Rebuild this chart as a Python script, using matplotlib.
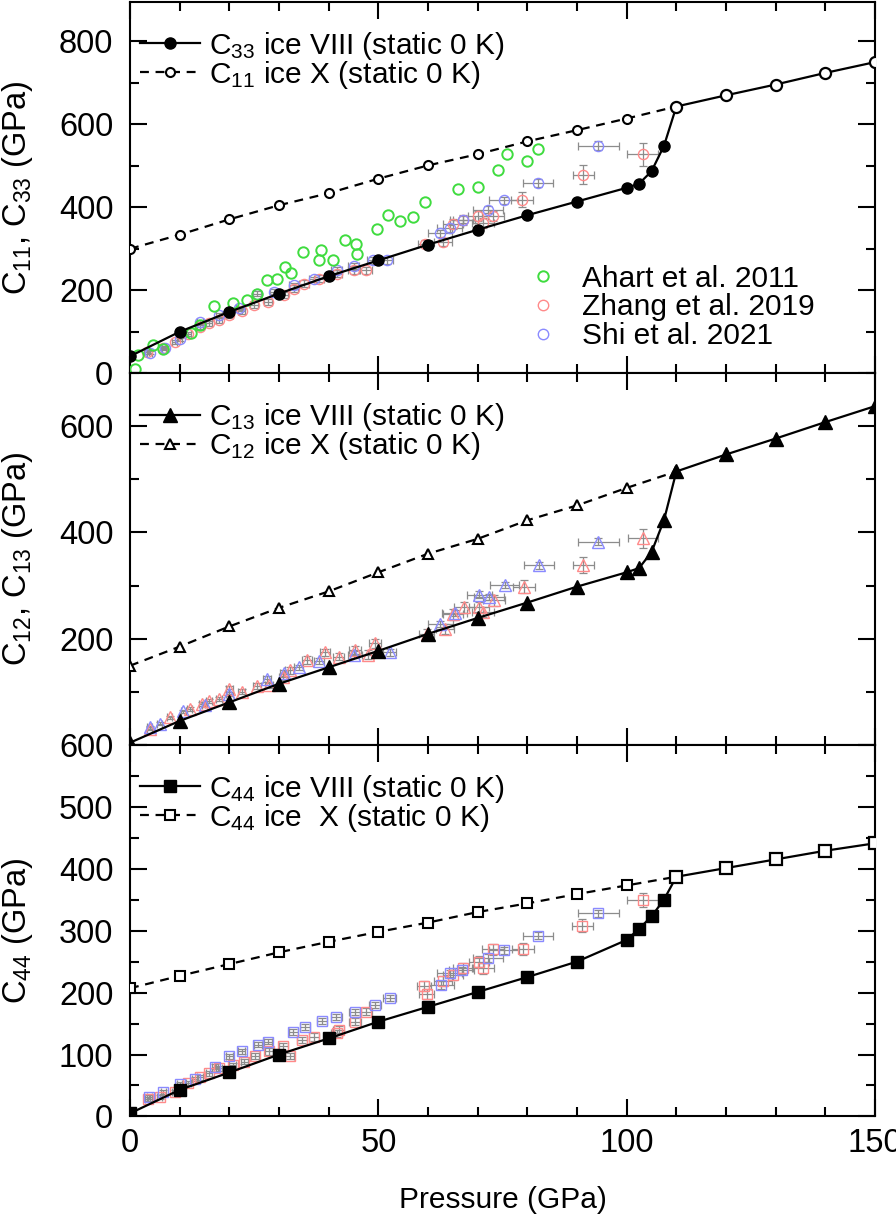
import matplotlib
matplotlib.use("Agg")
import matplotlib.pyplot as plt
from matplotlib.ticker import MultipleLocator, NullFormatter, FuncFormatter
from matplotlib.lines import Line2D

plt.rcParams['font.family'] = ['Liberation Sans', 'DejaVu Sans']
plt.rcParams['mathtext.fontset'] = 'custom'
plt.rcParams['mathtext.rm'] = 'Liberation Sans'
plt.rcParams['mathtext.it'] = 'Liberation Sans'
plt.rcParams['mathtext.default'] = 'regular'

# ---------------- theory (static 0 K) ----------------
P_viii = [0, 10, 20, 30, 40, 50, 60, 70, 80, 90, 100, 102.5, 105, 107.5, 110, 120, 130, 140, 150]
P_x = [0, 10, 20, 30, 40, 50, 60, 70, 80, 90, 100, 110]

C33_viii = [41, 100, 148, 192, 234, 272, 310, 346, 381, 414, 447, 457, 487, 548, 643, 670, 696, 724, 750]
C11_x = [300, 334, 371, 405, 434, 469, 501, 528, 559, 586, 614, 643]

C13_viii = [4, 45, 80, 115, 146, 177, 209, 239, 268, 298, 325, 333, 363, 423, 515, 547, 577, 608, 638]
C12_x = [149, 185, 223, 258, 289, 325, 360, 388, 423, 451, 484, 515]

C44_viii = [5, 43, 71, 100, 126, 153, 177, 201, 225, 250, 285, 303, 323, 350, 387, 401, 415, 429, 441]
C44_x = [207, 227, 246, 265, 282, 298, 313, 330, 344, 359, 373, 387]

# ---------------- experiments ----------------
# Ahart et al. 2011 (C11, no error bars)
ahart_P = [1, 1.7, 4.7, 6.7, 12.3, 14, 17, 20.8, 23.5, 25.5, 27.5, 29.5, 31.3, 32.5, 34.8, 38,
           38.4, 40.9, 43.3, 45.6, 45.8, 49.7, 52, 54.4, 57, 59.4, 66.1, 70.1, 74, 76, 80, 82.2]
ahart_C11 = [11, 43, 67, 59, 96, 116, 161, 169, 176, 192, 225, 228, 256, 242, 292, 272,
             296, 272, 322, 312, 288, 348, 381, 366, 377, 413, 443, 449, 491, 528, 512, 540]

# Zhang et al. 2019
zh1_P = [3.4, 6.7, 9, 11.7, 14, 16, 18, 20, 22.5, 25, 27.8, 31, 33, 35, 38, 41.6, 45, 47.6,
         59.4, 63, 65, 67, 70, 71, 73, 79, 91.3, 103.2]
zh1_C = [51, 60, 75, 95, 111, 120, 128, 140, 150, 164, 172, 188, 204, 216, 228, 240, 248, 248,
         311, 316, 360, 369, 378, 362, 378, 418, 478, 528]
zh1_xe = [0.5, 0.5, 0.5, 0.5, 0.6, 0.6, 0.6, 0.7, 0.7, 0.8, 0.8, 0.9, 0.9, 1, 1, 1.1, 1.2, 1.2,
          1.5, 1.8, 2, 2, 2, 2.2, 2.2, 2.2, 2.2, 3.1]
zh1_ye = [4, 4, 5, 5, 5, 6, 6, 6, 6, 7, 7, 7, 8, 8, 8, 9, 9, 9, 10, 10, 12, 12, 12, 12, 12, 18, 23, 28]

zh2_P = [4, 8, 12, 14.4, 16, 18, 20, 22.5, 25.5, 28, 30.9, 32.2, 35.6, 39.3, 42, 45.3, 48, 49.3,
         59.7, 63.4, 65, 67.3, 70.3, 71, 73.3, 79.3, 91.3, 103.3]
zh2_C = [30, 52, 67, 77, 82, 86, 105, 100, 111, 112, 128, 140, 160, 174, 166, 179, 170, 191,
         209, 218, 246, 259, 259, 250, 272, 298, 338, 389]
zh2_xe = [0.5, 0.5, 0.5, 0.6, 0.6, 0.6, 0.7, 0.7, 0.8, 0.8, 0.9, 0.9, 1, 1, 1.1, 1.2, 1.2, 1.2,
          1.5, 1.8, 2, 2, 2, 2.2, 2.2, 2.2, 2.2, 3.1]
zh2_ye = [3, 3, 4, 4, 4, 4, 5, 5, 5, 5, 6, 6, 7, 7, 7, 8, 8, 8, 9, 9, 10, 10, 10, 10, 10, 12, 15, 18]

zh4_P = [3.6, 6, 9, 11.7, 14, 16, 18, 20.7, 23, 25.2, 28, 30.9, 32.2, 34.6, 37, 41.6, 42,
         45.3, 47.6, 59.2, 59.7, 63, 65, 67, 70.3, 71, 73.1, 79.2, 91.1, 103.2]
zh4_C = [28, 32, 40, 54, 63, 70, 78, 83, 88, 97, 105, 113, 97, 124, 128, 134, 140,
         153, 169, 210, 198, 219, 229, 239, 250, 239, 270, 270, 308, 349]
zh4_xe = [0.5, 0.5, 0.5, 0.5, 0.6, 0.6, 0.6, 0.7, 0.7, 0.8, 0.8, 0.9, 0.9, 1, 1, 1.1, 1.1,
          1.2, 1.2, 1.5, 1.5, 1.8, 2, 2, 2, 2.2, 2.2, 2.2, 2.2, 3.1]
zh4_ye = [3, 3, 3, 3, 4, 4, 4, 4, 4, 5, 5, 5, 5, 5, 6, 6, 6, 6, 6, 8, 8, 8, 8, 8, 9, 9, 9, 10, 10, 11]

# Shi et al. 2021
sh1_P = [4, 7, 10, 14, 18, 22, 25.5, 29, 33, 37, 41.6, 45, 49, 51.7,
         62.4, 64.4, 67, 72.1, 75.2, 82.2, 94.3]
sh1_C = [50, 62, 82, 124, 140, 158, 192, 196, 212, 226, 248, 258, 272, 272,
         337, 349, 370, 394, 417, 459, 549]
sh1_xe = [0.5, 0.5, 0.5, 0.6, 0.6, 0.7, 0.8, 0.8, 0.9, 1, 1.1, 1.2, 1.2, 1.3,
          2.5, 2.5, 2.5, 3, 3, 3, 4.1]
sh1_ye = [4, 4, 4, 5, 5, 5, 6, 6, 6, 7, 7, 7, 8, 8, 8, 8, 8, 8, 9, 9, 10]

sh2_P = [4, 6, 10.7, 15, 20, 27.5, 31, 34, 38, 45, 52.3, 62.5, 65.4, 70.3, 72.3, 75.4, 82.4, 94.3]
sh2_C = [33, 40, 63, 75, 95, 124, 135, 146, 158, 170, 174, 228, 248, 283, 278, 301, 338, 383]
sh2_xe = [0.5, 0.5, 0.5, 0.6, 0.7, 0.8, 0.9, 0.9, 1, 1.2, 1.3, 2.5, 2.5, 2.5, 3, 3, 3, 4.1]
sh2_ye = [3, 3, 3, 4, 4, 5, 5, 5, 6, 6, 6, 6, 6, 6, 6, 6, 6, 6]

sh4_P = [3.9, 6.7, 10, 13, 17.1, 20, 22.5, 25.8, 27.8, 32.9, 35.2, 38.6, 41.5, 45.3, 49.3, 52.3,
         62.7, 64.4, 66.8, 72.1, 75.3, 82.2, 94.3]
sh4_C = [31, 40, 52, 60, 80, 97, 105, 116, 121, 137, 145, 154, 160, 169, 180, 191,
         212, 231, 236, 256, 268, 292, 328]
sh4_xe = [0.5, 0.5, 0.5, 0.6, 0.6, 0.7, 0.7, 0.8, 0.8, 0.9, 1, 1, 1.1, 1.2, 1.2, 1.3,
          2.5, 2.5, 2.5, 3, 3, 3, 4.1]
sh4_ye = [3, 3, 3, 3, 4, 4, 4, 4, 4, 5, 5, 5, 5, 5, 5, 5, 6, 6, 6, 6, 6, 6, 6]

labels_viii = [r'C$_{33}$ ice VIII (static 0 K)', r'C$_{13}$ ice VIII (static 0 K)', r'C$_{44}$ ice VIII (static 0 K)']
labels_x = [r'C$_{11}$ ice X (static 0 K)', r'C$_{12}$ ice X (static 0 K)', r'C$_{44}$ ice  X (static 0 K)']
exp_labels = ['Ahart et al. 2011', 'Zhang et al. 2019', 'Shi et al. 2021']
ylabels = [r'C$_{11}$, C$_{33}$ (GPa)', r'C$_{12}$, C$_{13}$ (GPa)', r'C$_{44}$ (GPa)']

GREEN = '#3fdc3f'
PINK = '#ff8a8a'
BLUE = '#8a8aff'
GRAY = '#8c8c8c'

FS = 21.5      # legend / xlabel
TFS = 23.5     # tick labels
LFS = 23.5     # y labels
fig = plt.figure(figsize=(8.96, 12.25), dpi=100)
L, W = 0.1451, 0.8315
axes = [fig.add_axes([L, 0.6953, W, 0.3031]),
        fig.add_axes([L, 0.3920, W, 0.3033]),
        fig.add_axes([L, 0.0886, W, 0.3034])]

viii = [C33_viii, C13_viii, C44_viii]
xph = [C11_x, C12_x, C44_x]
mk = ['o', '^', 's']
ms_big = [8, 9.5, 8]
ms_small = [6.5, 7.5, 6.5]
ylims = [(0, 895), (0, 700), (0, 600)]
ymaj = [200, 200, 100]
ymin = [100, 100, 50]
exp_sets = [
    [(zh1_P, zh1_C, zh1_xe, zh1_ye, PINK), (sh1_P, sh1_C, sh1_xe, sh1_ye, BLUE)],
    [(zh2_P, zh2_C, zh2_xe, zh2_ye, PINK), (sh2_P, sh2_C, sh2_xe, sh2_ye, BLUE)],
    [(zh4_P, zh4_C, zh4_xe, zh4_ye, PINK), (sh4_P, sh4_C, sh4_xe, sh4_ye, BLUE)],
]

n_low = sum(1 for p in P_viii if p < 110)

for i, ax in enumerate(axes):
    m = mk[i]
    # experiments
    for (pp, cc, xe, ye, col) in exp_sets[i]:
        ax.errorbar(pp, cc, xerr=xe, yerr=ye, fmt='none', ecolor=GRAY, elinewidth=0.9,
                    capsize=3, capthick=0.9, zorder=2)
        ax.plot(pp, cc, linestyle='none', marker=m, ms=ms_small[i] + 0.8, mfc='none',
                mec=col, mew=1.0, zorder=3)
    if i == 0:
        ax.plot(ahart_P, ahart_C11, linestyle='none', marker='o', ms=7.5, mfc='none',
                mec=GREEN, mew=1.4, zorder=3)

    # theory
    ax.plot(P_viii, viii[i], color='black', lw=1.6, zorder=5)
    ax.plot(P_viii[:n_low], viii[i][:n_low], linestyle='none', marker=m, ms=ms_big[i],
            mfc='black', mec='black', zorder=6)
    ax.plot(P_x, xph[i], color='black', lw=1.6, dashes=(4, 3), marker=m, ms=ms_small[i],
            mfc='white', mec='black', mew=1.5, zorder=6)
    if i == 1:
        ax.plot(P_viii[n_low:], viii[i][n_low:], linestyle='none', marker=m, ms=ms_big[i],
                mfc='black', mec='black', zorder=7)
    else:
        ax.plot(P_viii[n_low:], viii[i][n_low:], linestyle='none', marker=m, ms=ms_big[i],
                mfc='white', mec='black', mew=1.6, zorder=7)

    # legend (theory)
    h1 = Line2D([], [], color='black', lw=1.6, marker=m, ms=ms_big[i], mfc='black', mec='black')
    h2 = Line2D([], [], color='black', lw=1.6, dashes=(4, 3), marker=m, ms=ms_small[i],
                mfc='white', mec='black', mew=1.5)
    leg = ax.legend([h1, h2], [labels_viii[i], labels_x[i]], loc='upper left',
                    bbox_to_anchor=(0.014, 0.925), frameon=False, fontsize=FS,
                    handlelength=2.0, handletextpad=0.3, labelspacing=-0.1,
                    borderpad=0, borderaxespad=0, numpoints=1)
    if i == 0:
        ax.add_artist(leg)
        eh = [Line2D([], [], linestyle='none', marker='o', ms=7.5, mfc='none', mec=GREEN, mew=1.4),
              Line2D([], [], linestyle='none', marker='o', ms=7.5, mfc='none', mec=PINK, mew=1.0),
              Line2D([], [], linestyle='none', marker='o', ms=7.5, mfc='none', mec=BLUE, mew=1.0)]
        ax.legend(eh, exp_labels, loc='upper left', bbox_to_anchor=(0.514, 0.292),
                  frameon=False, fontsize=FS, handlelength=2.0, handletextpad=0.3,
                  labelspacing=0.02, borderpad=0, borderaxespad=0, numpoints=1)

    # axes styling
    ax.set_xlim(0, 150)
    ax.set_ylim(*ylims[i])
    ax.xaxis.set_major_locator(MultipleLocator(50))
    ax.xaxis.set_minor_locator(MultipleLocator(10))
    ax.yaxis.set_major_locator(MultipleLocator(ymaj[i]))
    ax.yaxis.set_minor_locator(MultipleLocator(ymin[i]))
    ax.tick_params(which='both', direction='in', top=True, right=True, width=1.5,
                   labelsize=TFS, colors='black')
    ax.tick_params(which='major', length=12)
    ax.tick_params(which='minor', length=6.5)
    ax.tick_params(axis='y', pad=12)
    ax.tick_params(axis='x', pad=8)
    for s in ax.spines.values():
        s.set_linewidth(1.5)
    if i < 2:
        ax.xaxis.set_major_formatter(NullFormatter())
    if i == 1:
        ax.yaxis.set_major_formatter(FuncFormatter(lambda v, p: '' if v == 0 else '%d' % v))
    ax.set_ylabel(ylabels[i], fontsize=LFS)
    ax.yaxis.set_label_coords(-0.128, 0.5)

axes[2].set_xlabel('Pressure (GPa)', fontsize=FS, labelpad=20)

fig.savefig('out.png', dpi=100)
